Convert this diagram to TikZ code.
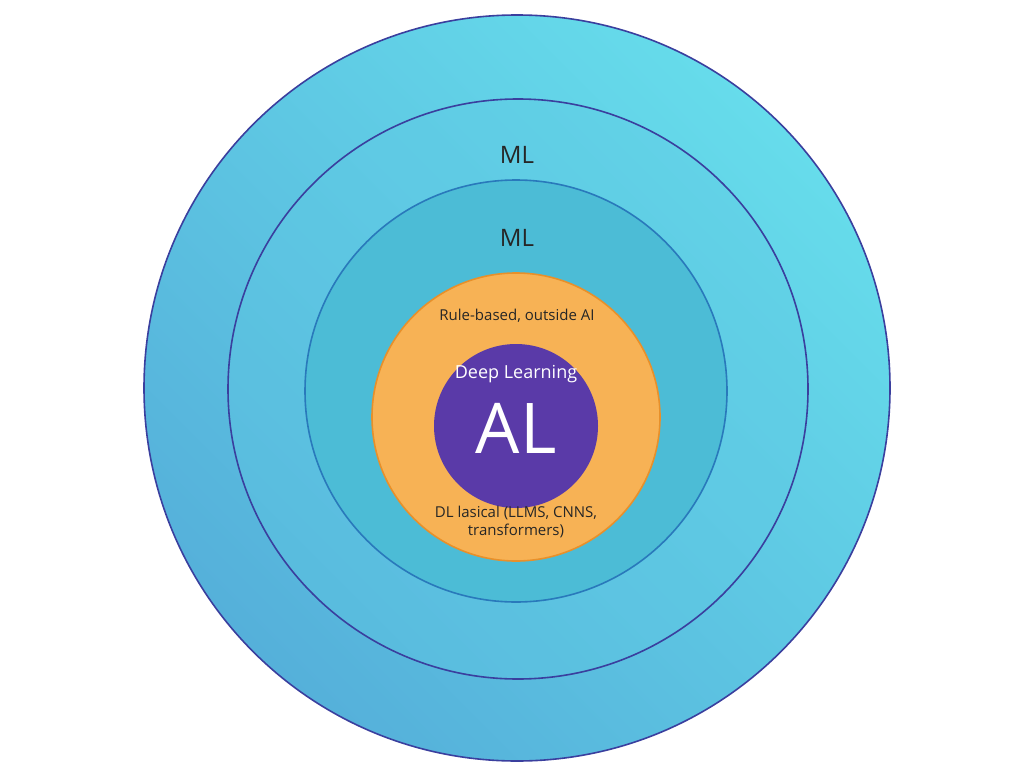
\documentclass[tikz,border=0pt]{standalone}
\usepackage{fontspec}
\setmainfont{Open Sans}
\definecolor{ringblue}{HTML}{3A3F9E}
\definecolor{cyanlight}{HTML}{66DCEB}
\definecolor{cyandark}{HTML}{55B0DA}
\definecolor{midcyan}{HTML}{4CBCD6}
\definecolor{orangefill}{HTML}{F7B255}
\definecolor{orangeline}{HTML}{E8902A}
\definecolor{violetfill}{HTML}{5A3AA8}
\begin{document}
\begin{tikzpicture}[x=1pt, y=-1pt,
	ring/.style={circle, draw=ringblue, line width=1.6pt, inner sep=0pt},
	label/.style={font=\fontsize{24}{26}\selectfont, text=black!85},
	small/.style={font=\fontsize{15}{18}\selectfont, text=black!85, align=center},
	light/.style={text=white}]
	\useasboundingbox (0,0) rectangle (1024,768);
	\node[ring, minimum size=746pt, shading=axis, top color=cyanlight, bottom color=cyandark, shading angle=-45] (outer) at (517,388) {};
	\node[ring, minimum size=580pt, fill=cyanlight!60!cyandark, fill opacity=0.35] (ml) at (518,389) {};
	\node[ring, minimum size=422pt, draw=ringblue!70!cyan, fill=midcyan] (inner) at (516,391) {};
	\node[circle, minimum size=288pt, draw=orangeline, line width=1.6pt, fill=orangefill] (rule) at (516,417) {};
	\node[circle, minimum size=164pt, fill=violetfill] (dl) at (516,426) {};
	\node[label] (mltext) at (517,155) {ML};
	\node[label] (innertext) at (517,238) {ML};
	\node[small] (ruletext) at (517,316) {Rule-based, outside AI};
	\node[light, font=\fontsize{18}{20}\selectfont] (dltext) at (516,374) {Deep Learning};
	\node[light, font=\fontsize{70}{72}\selectfont] (altext) at (516,428) {AL};
	\node[small] (classic) at (516,522) {DL lasical (LLMS, CNNS,\\transformers)};
\end{tikzpicture}
\end{document}
